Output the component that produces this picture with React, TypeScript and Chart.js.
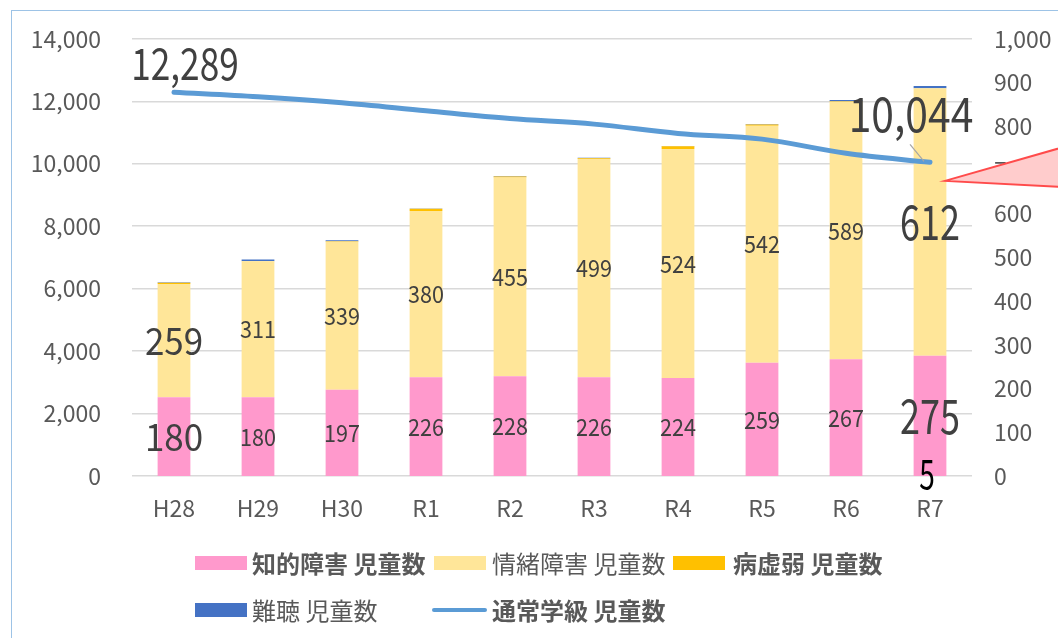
import React, { useEffect, useRef } from "react";
import { Chart, registerables } from "chart.js";

Chart.register(...registerables);

const categories = ["H28", "H29", "H30", "R1", "R2", "R3", "R4", "R5", "R6", "R7"];
const intellectual = [180, 180, 197, 226, 228, 226, 224, 259, 267, 275];
const emotional = [259, 311, 339, 380, 455, 499, 524, 542, 589, 612];
const sickly = [3, 1, 1, 5, 2, 2, 6, 3, 1, 0];
const hearing = [1, 3, 2, 1, 1, 1, 1, 1, 3, 5];
const regularClass = [12289, 12145, 11952, 11695, 11445, 11268, 10970, 10787, 10337, 10044];

const seriesNames = ["知的障害 児童数", "情緒障害 児童数", "病虚弱 児童数", "難聴 児童数", "通常学級 児童数"];
const seriesColors = ["#FF99CC", "#FFE699", "#FFC000", "#4472C4", "#5B9BD5"];
const seriesBold = [true, false, true, false, true];

const FONT = "'Noto Sans CJK JP', 'Noto Sans', sans-serif";
const TICK_COLOR = "#595959";
const PLOT_TOP = 39;
const BASE_H = 638;

type Spec = { size: number; sx: number; dx?: number; dy?: number; color?: string; anchor?: string; leader?: boolean };

function labelSpec(di: number, i: number): Spec | null {
  const last = categories.length - 1;
  if (di === 0 || di === 1) {
    if (i === 0) return { size: 38, sx: 0.92 };
    if (i === last) return { size: 48, sx: 0.75 };
    return { size: 24, sx: 0.9 };
  }
  if (di === 3 && i === last) return { size: 40, sx: 0.7, color: "#000000", anchor: "zero", dy: -2, dx: -3 };
  if (di === 4) {
    if (i === 0) return { size: 44, sx: 0.8, dx: 11, dy: -29 };
    if (i === last) return { size: 48, sx: 0.85, dx: -19, dy: -49, leader: true };
  }
  return null;
}

const labelPlugin = {
  id: "customLabels",
  afterDatasetsDraw(chart: any) {
    const ctx = chart.ctx;
    chart.data.datasets.forEach((ds: any, di: number) => {
      const meta = chart.getDatasetMeta(di);
      meta.data.forEach((el: any, i: number) => {
        const spec = labelSpec(di, i);
        if (!spec) return;
        const v = ds.data[i] as number;
        let x = el.x;
        let y: number;
        if (meta.type === "bar") {
          y = spec.anchor === "zero" ? chart.scales.y1.getPixelForValue(0) : (el.y + el.base) / 2;
        } else {
          y = el.y;
        }
        if (spec.leader) {
          ctx.save();
          ctx.strokeStyle = "#A6A6A6";
          ctx.lineWidth = 1.2;
          ctx.beginPath();
          ctx.moveTo(x - 20, y - 18);
          ctx.lineTo(x - 6, y - 1);
          ctx.stroke();
          ctx.restore();
        }
        x += spec.dx || 0;
        y += spec.dy || 0;
        ctx.save();
        ctx.translate(x, y);
        ctx.scale(spec.sx, 1);
        ctx.font = `${spec.size}px ${FONT}`;
        ctx.fillStyle = spec.color || "#404040";
        ctx.textAlign = "center";
        ctx.textBaseline = "middle";
        ctx.fillText(v.toLocaleString("en-US"), 0, 0);
        ctx.restore();
      });
    });
  },
  afterDraw(chart: any) {
    const ctx = chart.ctx;
    const y1 = chart.scales.y1;
    const tipX = chart.chartArea.right - 27;
    const tipY = y1.getPixelForValue(675);
    ctx.save();
    ctx.beginPath();
    ctx.moveTo(tipX, tipY);
    ctx.lineTo(chart.width + 20, tipY - 38);
    ctx.lineTo(chart.width + 20, tipY + 7);
    ctx.closePath();
    ctx.fillStyle = "#FFCCCC";
    ctx.fill();
    ctx.strokeStyle = "#FF4B4B";
    ctx.lineWidth = 2;
    ctx.stroke();
    ctx.restore();
  },
};

function Legend() {
  const items = [
    { idx: 0, left: 195, cy: 563, textLeft: 252 },
    { idx: 1, left: 434, cy: 563, textLeft: 492 },
    { idx: 2, left: 673, cy: 563, textLeft: 733 },
    { idx: 3, left: 195, cy: 610, textLeft: 252 },
    { idx: 4, left: 432, cy: 610, textLeft: 492 },
  ];
  return (
    <>
      {items.map((it) => {
        const isLine = it.idx === 4;
        return (
          <React.Fragment key={it.idx}>
            <div
              style={{
                position: "absolute",
                left: it.left,
                top: isLine ? it.cy - 2 : it.cy - 7,
                width: isLine ? 55 : 52,
                height: isLine ? 4 : 14,
                borderRadius: isLine ? 2 : 0,
                background: seriesColors[it.idx],
              }}
            />
            <div
              style={{
                position: "absolute",
                left: it.textLeft,
                top: it.cy - 16,
                height: 32,
                lineHeight: "32px",
                fontFamily: FONT,
                fontSize: 24,
                fontWeight: seriesBold[it.idx] ? 700 : 400,
                color: TICK_COLOR,
                whiteSpace: "nowrap",
              }}
            >
              {seriesNames[it.idx]}
            </div>
          </React.Fragment>
        );
      })}
    </>
  );
}

function makeConfig(): any {
  const barCommon = {
    type: "bar" as const,
    yAxisID: "y1",
    stack: "s",
    barPercentage: 0.39,
    categoryPercentage: 1,
    order: 1,
    borderWidth: 0,
  };
  return {
    type: "bar",
    data: {
      labels: categories,
      datasets: [
        { ...barCommon, label: seriesNames[0], data: intellectual, backgroundColor: seriesColors[0] },
        { ...barCommon, label: seriesNames[1], data: emotional, backgroundColor: seriesColors[1] },
        { ...barCommon, label: seriesNames[2], data: sickly, backgroundColor: seriesColors[2] },
        { ...barCommon, label: seriesNames[3], data: hearing, backgroundColor: seriesColors[3] },
        {
          type: "line",
          label: seriesNames[4],
          data: regularClass,
          yAxisID: "y",
          borderColor: seriesColors[4],
          borderWidth: 5,
          pointRadius: 0,
          tension: 0.35,
          borderCapStyle: "round",
          borderJoinStyle: "round",
          order: 0,
        },
      ],
    },
    options: {
      responsive: false,
      maintainAspectRatio: false,
      animation: false,
      devicePixelRatio: 1,
      layout: { autoPadding: false, padding: { top: PLOT_TOP, left: 0, right: 0, bottom: 0 } },
      plugins: { legend: { display: false }, tooltip: { enabled: false } },
      scales: {
        x: {
          stacked: true,
          grid: { display: false, drawTicks: false },
          border: { display: false },
          ticks: { color: TICK_COLOR, font: { family: FONT, size: 23 }, padding: 18 },
          afterFit: (s: any) => {
            s.height = 162;
          },
        },
        y: {
          position: "left",
          min: 0,
          max: 14000,
          grid: { color: "#D9D9D9", lineWidth: 1.5, drawTicks: false },
          border: { display: false },
          ticks: {
            stepSize: 2000,
            color: TICK_COLOR,
            font: { family: FONT, size: 23 },
            padding: 31,
            callback: (v: any) => Number(v).toLocaleString("en-US"),
          },
          afterFit: (s: any) => {
            s.width = 132;
          },
        },
        y1: {
          position: "right",
          stacked: true,
          min: 0,
          max: 1000,
          grid: { display: false, drawTicks: false },
          border: { display: false },
          ticks: {
            stepSize: 100,
            color: TICK_COLOR,
            font: { family: FONT, size: 23 },
            padding: 22,
            callback: (v: any) => Number(v).toLocaleString("en-US"),
          },
          afterFit: (s: any) => {
            s.width = 86;
          },
        },
      },
    },
    plugins: [labelPlugin],
  };
}

export default function App() {
  const canvasRef = useRef<HTMLCanvasElement | null>(null);

  useEffect(() => {
    const canvas = canvasRef.current;
    if (!canvas) return;
    const applySize = (offset: number) => {
      canvas.width = 1058;
      canvas.height = BASE_H + offset;
      canvas.style.position = "absolute";
      canvas.style.left = "0px";
      canvas.style.top = `${-offset}px`;
      canvas.style.width = "1058px";
      canvas.style.height = `${BASE_H + offset}px`;
    };
    let offset = 0;
    applySize(offset);
    let chart = new Chart(canvas, makeConfig());
    for (let k = 0; k < 3; k++) {
      const next = Math.round(chart.chartArea.top - PLOT_TOP);
      if (next === offset) break;
      chart.destroy();
      offset = next;
      applySize(offset);
      chart = new Chart(canvas, makeConfig());
    }
    return () => chart.destroy();
  }, []);

  return (
    <div
      style={{
        position: "absolute",
        left: 0,
        top: 0,
        width: 1058,
        height: 638,
        overflow: "hidden",
        background: "#FFFFFF",
      }}
    >
      <canvas ref={canvasRef} width={1058} height={638} style={{ position: "absolute", left: 0, top: 0, width: 1058, height: 638 }} />
      <div
        style={{
          position: "absolute",
          left: 11,
          top: 10,
          width: 2000,
          height: 2000,
          border: "1.5px solid #9DC3E6",
          pointerEvents: "none",
        }}
      />
      <Legend />
    </div>
  );
}
